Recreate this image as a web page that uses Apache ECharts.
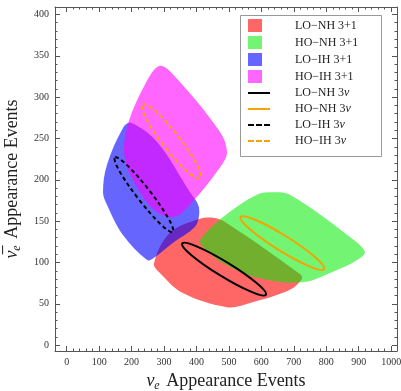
<!DOCTYPE html>
<html>
<head>
<meta charset="utf-8">
<script src="https://cdn.jsdelivr.net/npm/echarts@6/dist/echarts.min.js"></script>
<style>
  html, body { margin: 0; padding: 0; background: #fff; }
  #chart { width: 401px; height: 391px; }
</style>
</head>
<body>
<div id="chart"></div>
<script>
// Axis ticks
const xMajor = [0, 100, 200, 300, 400, 500, 600, 700, 800, 900, 1000];
const xMinor = [0, 20, 40, 60, 80, 100, 120, 140, 160, 180, 200, 220, 240, 260, 280, 300,
  320, 340, 360, 380, 400, 420, 440, 460, 480, 500, 520, 540, 560, 580, 600, 620, 640, 660,
  680, 700, 720, 740, 760, 780, 800, 820, 840, 860, 880, 900, 920, 940, 960, 980, 1000];
const yMajor = [0, 50, 100, 150, 200, 250, 300, 350, 400];
const yMinor = [0, 10, 20, 30, 40, 50, 60, 70, 80, 90, 100, 110, 120, 130, 140, 150, 160,
  170, 180, 190, 200, 210, 220, 230, 240, 250, 260, 270, 280, 290, 300, 310, 320, 330, 340,
  350, 360, 370, 380, 390, 400];

// Allowed regions (3+1), boundary points [nu_e events, anti-nu_e events]
const loNh31 = [[269, 99], [318, 136], [411, 153], [451, 154], [488, 149], [719, 86],
  [725, 80], [688, 67], [565, 51], [494, 46], [358, 63], [288, 87]];
const hoNh31 = [[411, 127], [482, 155], [586, 182], [636, 185], [688, 182], [873, 131],
  [919, 113], [895, 103], [833, 91], [725, 76], [586, 82], [482, 99], [420, 119]];
const loIh31 = [[198, 269], [278, 246], [380, 185], [405, 170], [408, 157], [395, 143],
  [328, 124], [266, 105], [248, 103], [174, 133], [124, 170], [112, 185], [124, 218], [174, 263]];
const hoIh31 = [[288, 338], [343, 321], [472, 258], [494, 234], [476, 217], [380, 170],
  [331, 155], [278, 161], [226, 185], [180, 224], [186, 263], [241, 315]];

// Standard 3-flavour contours: two ends of the long axis, then a point at the side of the middle
const loNh3nu = [[356, 123], [614, 61], [495, 100]];
const hoNh3nu = [[536, 155], [793, 92], [675, 132]];
const loIh3nu = [[149, 227], [327, 137], [253, 188]];
const hoIh3nu = [[234, 291], [411, 202], [341, 254]];

const serif = 'Liberation Serif';
const frameColor = '#555';

function regionSeries(name, pts, color) {
  return {
    type: 'custom',
    name: name,
    coordinateSystem: 'cartesian2d',
    data: pts,
    encode: { x: 0, y: 1 },
    itemStyle: { color: color },
    renderItem: function (params, api) {
      if (params.dataIndex !== 0) return null;
      const points = pts.map(function (p) { return api.coord(p); });
      return {
        type: 'polygon',
        shape: { points: points, smooth: 0.35 },
        style: { fill: color }
      };
    }
  };
}

function ellipseSeries(name, pts, color, dashed) {
  return {
    type: 'custom',
    name: name,
    coordinateSystem: 'cartesian2d',
    data: pts,
    encode: { x: 0, y: 1 },
    itemStyle: { color: color },
    z: 5,
    renderItem: function (params, api) {
      if (params.dataIndex !== 0) return null;
      const p1 = api.coord(pts[0]);
      const p2 = api.coord(pts[1]);
      const pm = api.coord(pts[2]);
      const cx = (p1[0] + p2[0]) / 2, cy = (p1[1] + p2[1]) / 2;
      const ax = (p2[0] - p1[0]) / 2, ay = (p2[1] - p1[1]) / 2;
      const rx = Math.sqrt(ax * ax + ay * ay);
      const bx = pm[0] - cx, by = pm[1] - cy;
      const ry = Math.abs(ax * by - ay * bx) / rx;
      return {
        type: 'ellipse',
        x: cx, y: cy,
        rotation: -Math.atan2(ay, ax),
        shape: { cx: 0, cy: 0, rx: rx, ry: ry },
        style: {
          fill: 'none',
          stroke: color,
          lineWidth: 2,
          lineDash: dashed ? [4, 3] : null
        }
      };
    }
  };
}

function plainNumber(v) { return String(v); }

function xAxisDef(pos, ticks, len, showLine, showLabel) {
  return {
    type: 'value', min: -36, max: 1018, position: pos, gridIndex: 0,
    axisLine: { show: showLine, onZero: false, lineStyle: { color: frameColor, width: 1 } },
    axisTick: { show: true, inside: true, length: len, customValues: ticks,
      lineStyle: { color: frameColor, width: 1 } },
    axisLabel: { show: showLabel, customValues: ticks, margin: 6, formatter: plainNumber,
      fontFamily: serif, fontSize: 10, color: '#333' },
    splitLine: { show: false }
  };
}
function yAxisDef(pos, ticks, len, showLine, showLabel) {
  return {
    type: 'value', min: -7, max: 409, position: pos, gridIndex: 0,
    axisLine: { show: showLine, onZero: false, lineStyle: { color: frameColor, width: 1 } },
    axisTick: { show: true, inside: true, length: len, customValues: ticks,
      lineStyle: { color: frameColor, width: 1 } },
    axisLabel: { show: showLabel, customValues: ticks, margin: 6, formatter: plainNumber,
      fontFamily: serif, fontSize: 10, color: '#333' },
    splitLine: { show: false }
  };
}

const titleStyle = {
  fontFamily: serif, fontSize: 18, color: '#222',
  rich: {
    n: { fontFamily: serif, fontSize: 18, fontStyle: 'italic', color: '#222' },
    s: { fontFamily: serif, fontSize: 12, fontStyle: 'italic', color: '#222', padding: [9, 2, 0, 0] }
  }
};

const xMain = xAxisDef('bottom', xMajor, 5, true, true);
xMain.name = '{n|ν}{s|e} Appearance Events';
xMain.nameLocation = 'middle';
xMain.nameGap = 16;
xMain.nameTextStyle = titleStyle;

const yMain = yAxisDef('left', yMajor, 5, true, true);
yMain.name = '{n|ν\u0305}{s|e} Appearance Events';
yMain.nameLocation = 'middle';
yMain.nameRotate = 90;
yMain.nameGap = 28;
yMain.nameTextStyle = titleStyle;

// Legend icons: filled swatch, solid line, dashed line
const iconSquare = 'path://M0,0L14,0L14,13L0,13Z M21.95,12.95L22,12.95L22,13L21.95,13Z';
const iconLine = 'path://M0,0L22,0L22,2L0,2Z';
const iconDash = 'path://M0,0L6,0L6,2L0,2Z M8,0L14,0L14,2L8,2Z M16,0L22,0L22,2L16,2Z';

const names = ['LO\u2212NH 3+1', 'HO\u2212NH 3+1', 'LO\u2212IH 3+1', 'HO\u2212IH 3+1',
  'LO\u2212NH 3ν', 'HO\u2212NH 3ν', 'LO\u2212IH 3ν', 'HO\u2212IH 3ν'];

const red = 'rgba(255,0,0,0.6)';
const green = 'rgba(0,235,0,0.55)';
const blue = 'rgba(0,0,255,0.6)';
const magenta = 'rgba(255,0,255,0.6)';
const orange = '#f5a300';

const chart = echarts.init(document.getElementById('chart'), null, { renderer: 'canvas' });
chart.setOption({
  animation: false,
  backgroundColor: '#fff',
  grid: { left: 55, right: 4, top: 7, bottom: 40, containLabel: false, outerBoundsMode: 'none' },
  xAxis: [
    xMain,
    xAxisDef('bottom', xMinor, 2.5, false, false),
    xAxisDef('top', xMajor, 5, true, false),
    xAxisDef('top', xMinor, 2.5, false, false)
  ],
  yAxis: [
    yMain,
    yAxisDef('left', yMinor, 2.5, false, false),
    yAxisDef('right', yMajor, 5, true, false),
    yAxisDef('right', yMinor, 2.5, false, false)
  ],
  graphic: [{
    type: 'rect', left: 240, top: 15, z: 1,
    shape: { width: 141, height: 141 },
    style: { fill: '#fff', stroke: '#999', lineWidth: 1 }
  }],
  legend: {
    orient: 'vertical', left: 243, top: 14, z: 10,
    itemWidth: 22, itemHeight: 13, itemGap: 4,
    selectedMode: false,
    data: [
      { name: names[0], icon: iconSquare }, { name: names[1], icon: iconSquare },
      { name: names[2], icon: iconSquare }, { name: names[3], icon: iconSquare },
      { name: names[4], icon: iconLine }, { name: names[5], icon: iconLine },
      { name: names[6], icon: iconDash }, { name: names[7], icon: iconDash }
    ],
    formatter: function (n) { return n.replace('ν', '{i|ν}'); },
    textStyle: {
      fontFamily: serif, fontSize: 12, color: '#222', padding: [0, 0, 0, 20],
      rich: { i: { fontFamily: serif, fontSize: 12, fontStyle: 'italic', color: '#222' } }
    }
  },
  series: [
    regionSeries(names[0], loNh31, red),
    regionSeries(names[1], hoNh31, green),
    regionSeries(names[2], loIh31, blue),
    regionSeries(names[3], hoIh31, magenta),
    ellipseSeries(names[4], loNh3nu, '#000', false),
    ellipseSeries(names[5], hoNh3nu, orange, false),
    ellipseSeries(names[6], loIh3nu, '#000', true),
    ellipseSeries(names[7], hoIh3nu, orange, true)
  ]
});
</script>
</body>
</html>
